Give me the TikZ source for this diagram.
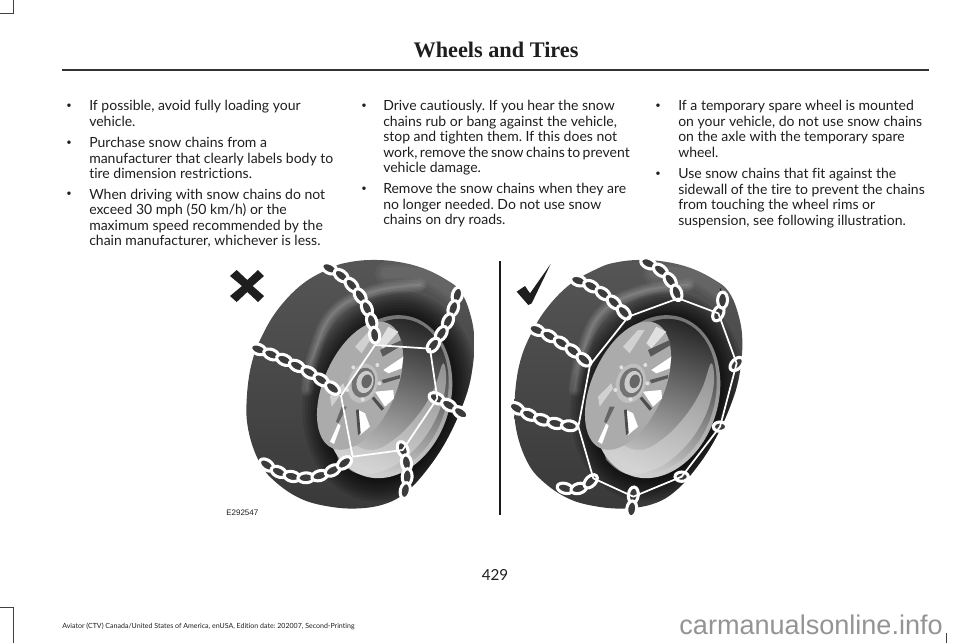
\documentclass[tikz,border=0pt]{standalone}
\usepackage{fontspec}
\setmainfont[Ligatures=NoCommon]{Lato}
\newfontfamily\titlefont{Liberation Serif}
\newfontfamily\markfont{Liberation Sans}
\usetikzlibrary{decorations.markings}
\definecolor{ink}{HTML}{1E1E1E}
\definecolor{tyre}{HTML}{3A3C3C}
\tikzset{
 para/.style={anchor=north west,inner sep=0pt,align=left,text=ink,font=\frenchspacing\fontsize{10.5}{11.62}\selectfont},
 dot/.style={inner sep=0pt,text=ink,font=\fontsize{7}{8}\selectfont},
 crop/.style={line width=0.75pt,draw=black!75},
 zoomunits/.style={x=0.25pt,y=-0.25pt},
 chainlink/.style={draw=white,line width=2.3pt,fill=tyre},
 chainline/.style={draw=white,line width=1.3pt,line join=round},
 links/.style={postaction={decorate,decoration={markings,
   mark=between positions 0 and 1 step 10.5pt with {\draw[chainlink] (0,0) ellipse (6pt and 3.7pt);}}}},
}
\newcommand{\rimellipse}[5][]{\path[#1,rotate around={73.4:(#2,#3)}] (#2,#3) ellipse [x radius=#4,y radius=#5];}
\newcommand{\tyreoutline}{plot[smooth cycle,tension=0.65] coordinates{(300,55)(350,38)(420,30)(500,35)(580,55)(650,90)(692,125)(720,190)(733,270)(725,370)(700,460)(650,570)(590,660)(530,725)(470,760)(390,775)(300,770)(210,745)(130,690)(85,630)(55,540)(50,450)(65,340)(100,250)(150,170)(220,100)}}
\newcommand{\wheelbody}{%
 \begin{scope}
 \path[clip] \tyreoutline;
 % tyre
 \path[top color=black!66,bottom color=black!78] (0,0) rectangle (800,800);
 % shoulder highlight
 \foreach \w in {40,32,24,16,9,4}{
  \draw[white,opacity=0.05,line width=\w*0.25pt,line cap=round] plot[smooth,tension=0.7] coordinates{(232,420)(250,320)(310,190)(430,125)(570,105)};
 }
 \foreach \w in {70,50,34}{
  \draw[white,opacity=0.04,line width=\w*0.25pt,line cap=round] plot[smooth,tension=0.7] coordinates{(470,70)(580,75)(670,130)};
 }
 % dark hollow round the rim
 \foreach \a/\b in {320/255,312/246,304/238,296/230,288/222,280/214,272/206,264/198,257/192}{
  \rimellipse[fill=black,fill opacity=0.11]{478}{440}{\a}{\b}
 }
 % rim lip
 \rimellipse[top color=black!55,bottom color=black!18,shading angle=-10]{475}{440}{249}{186}
 % barrel
 \rimellipse[top color=black!85,middle color=black!42,bottom color=black!18,shading angle=-20]{478}{438}{236}{172}
 % lower barrel, lit
 \path[fill=black!14,fill opacity=0.5] plot[smooth,tension=0.7] coordinates{(310,580)(340,570)(420,600)(490,570)(560,500)(610,420)(640,340)(645,420)(605,530)(530,620)(450,665)(380,670)(325,630)} -- cycle;
 % wheel face
 \path[fill=black!33,rotate around={66:(390,407)}] (390,407) ellipse [x radius=205,y radius=108];
 % windows and spokes
 \path[fill=white] (460,360)--(520,320)--(515,355)--(475,370)--cycle;
 \path[fill=white] (435,425)--(490,420)--(492,445)--(465,470)--cycle;
 \path[fill=white] (385,480)--(405,490)--(420,530)--(390,555)--cycle;
 \path[fill=white] (300,575)--(325,520)--(332,527)--(312,582)--cycle;
 \path[fill=black!12] (445,280)--(475,230)--(505,245)--(460,295)--cycle;
 \path[fill=black!65] (455,390)--(510,375)--(510,385)--(460,400)--cycle;
 \path[fill=black!65] (450,300)--(515,270)--(518,285)--(458,320)--cycle;
 \path[fill=black!70] (425,445)--(432,440)--(462,475)--(455,482)--cycle;
 \path[fill=black!70] (378,480)--(386,478)--(392,550)--(384,555)--cycle;
 \path[fill=black!60] (335,470)--(350,470)--(325,520)--(318,515)--cycle;
 \path[fill=black!18] (300,440)--(340,400)--(345,415)--(305,470)--cycle;
 \path[fill=black!18] (375,290)--(420,240)--(440,240)--(395,310)--cycle;
 % hub
 \rimellipse[fill=black!25]{398}{400}{60}{44}
 \rimellipse[fill=black!55]{400}{398}{46}{34}
 \rimellipse[fill=black!20]{405}{396}{34}{25}
 \rimellipse[fill=black!60]{410}{394}{21}{15}
 \foreach \bx/\by in {442/345,370/352,352/420,398/448,448/400}{
  \path[fill=black!12] (\bx,\by) circle (6);
 }
 \end{scope}
}
\begin{document}
\begin{tikzpicture}[x=0.75pt,y=-0.75pt]
\path[use as bounding box,fill=white] (0,0) rectangle (960,643);
% crop marks
\draw[crop] (0,13)--(13,13)--(13,0);
\draw[crop] (0,607)--(13,607)--(13,643);
\draw[crop] (946,633)--(946,643);
% header
\coordinate (hl) at (62,70);
\coordinate (hr) at (929,70);
\draw[line width=1.05pt,draw=black!80] (hl)--(hr);
\node[inner sep=0pt,text=ink,font=\titlefont\bfseries\fontsize{16.7}{20}\selectfont] (title) at (496,50) {Wheels and Tires};
% column 1
\node[dot] (b1) at (69,106.5) {•};
\node[para] (p1) at (89,100) {If possible, avoid fully loading your\\vehicle.};
\node[dot] (b2) at (69,143) {•};
\node[para] (p2) at (89,137) {Purchase snow chains from a\\manufacturer that clearly labels body to\\tire dimension restrictions.};
\node[dot] (b3) at (69,194.5) {•};
\node[para] (p3) at (89,188.5) {When driving with snow chains do not\\exceed 30 mph (50 km/h) or the\\maximum speed recommended by the\\chain manufacturer, whichever is less.};
% column 2
\node[dot] (b4) at (364,106.5) {•};
\node[para] (p4) at (383,100) {Drive cautiously. If you hear the snow\\chains rub or bang against the vehicle,\\stop and tighten them. If this does not\\{\spaceskip=1.85pt work, remove the snow chains to prevent}\\vehicle damage.};
\node[dot] (b5) at (364,189.5) {•};
\node[para] (p5) at (383,183) {Remove the snow chains when they are\\no longer needed. Do not use snow\\chains on dry roads.};
% column 3
\node[dot] (b6) at (658,106.5) {•};
\node[para] (p6) at (678,100) {If a temporary spare wheel is mounted\\on your vehicle, do not use snow chains\\on the axle with the temporary spare\\wheel.};
\node[dot] (b7) at (658,174.5) {•};
\node[para] (p7) at (678,168) {Use snow chains that fit against the\\sidewall of the tire to prevent the chains\\from touching the wheel rims or\\suspension, see following illustration.};
% left wheel
\begin{scope}[xshift=172.5pt,yshift=-187.5pt,zoomunits]
 \wheelbody
 \path[fill=ink] (0,78)--(20,60)--(52,90)--(84,60)--(102,78)--(68,108)--(102,138)--(84,156)--(52,126)--(20,156)--(0,138)--(36,108)--cycle;
 \draw[links] (298,55) .. controls (370,90) and (430,170) .. (437,285);
 \draw[links] (682,135) .. controls (665,200) and (640,250) .. (600,298);
 \draw[links] (85,298) .. controls (170,330) and (260,370) .. (335,437);
 \draw[links] (110,645) .. controls (190,700) and (280,700) .. (368,618);
 \draw[links] (518,598) .. controls (535,640) and (535,680) .. (525,725);
 \draw[links] (620,445) .. controls (650,460) and (680,480) .. (702,495);
 \draw[chainline] (435,285)--(600,296)--(622,445)--(518,600)--(368,620)--(333,437)--cycle;
\end{scope}
% right wheel
\begin{scope}[xshift=373.5pt,yshift=-187.5pt,zoomunits]
 \wheelbody
\end{scope}
\begin{scope}[xshift=367.5pt,yshift=-187.5pt,zoomunits]
 \path[fill=ink] (80,125)--(105,108)--(120,130)--(182,42)--(125,160)--(115,165)--cycle;
 \draw[line width=1.1pt,draw=black!90] (30,33)--(30,795);
 \draw[links] (265,92) .. controls (320,110) and (370,150) .. (415,202);
 \draw[links] (475,40) .. controls (520,60) and (550,90) .. (565,145);
 \draw[links] (140,240) .. controls (200,265) and (250,300) .. (300,345);
 \draw[links] (80,475) .. controls (140,510) and (200,525) .. (265,530);
 \draw[links] (225,715) .. controls (260,725) and (290,710) .. (310,685);
 \draw[links] (430,735) -- (425,778);
 \draw[links] (685,190) .. controls (695,170) and (705,150) .. (690,115);
 \draw[links] (740,342) -- (752,330);
 \draw[chainlink] (690,530) ellipse (5pt and 3.5pt);
 \draw[chainlink] (575,680) ellipse (5pt and 3.5pt);
 \draw[chainline] (415,200)--(565,145)--(685,190)--(740,340)--(690,530)--(575,680)--(430,740)--(310,685)--(265,530)--(300,345)--cycle;
\end{scope}
% captions
\node[inner sep=0pt,anchor=base west,text=ink,font=\markfont\fontsize{6}{7}\selectfont] (code) at (226,515) {E292547};
\node[inner sep=0pt,text=ink,font=\fontsize{11.4}{13}\selectfont] (pageno) at (495,575) {429};
\node[inner sep=0pt,anchor=base west,text=ink,font=\frenchspacing\fontsize{5.28}{6}\selectfont] (foot) at (62,628) {Aviator (CTV) Canada/United States of America, enUSA, Edition date: 202007, Second-Printing};
\node[inner sep=0pt,anchor=base east,text=black!42,font=\markfont\fontsize{20.3}{22}\selectfont] (wm) at (943,634) {carmanualsonline.info};
\end{tikzpicture}
\end{document}
